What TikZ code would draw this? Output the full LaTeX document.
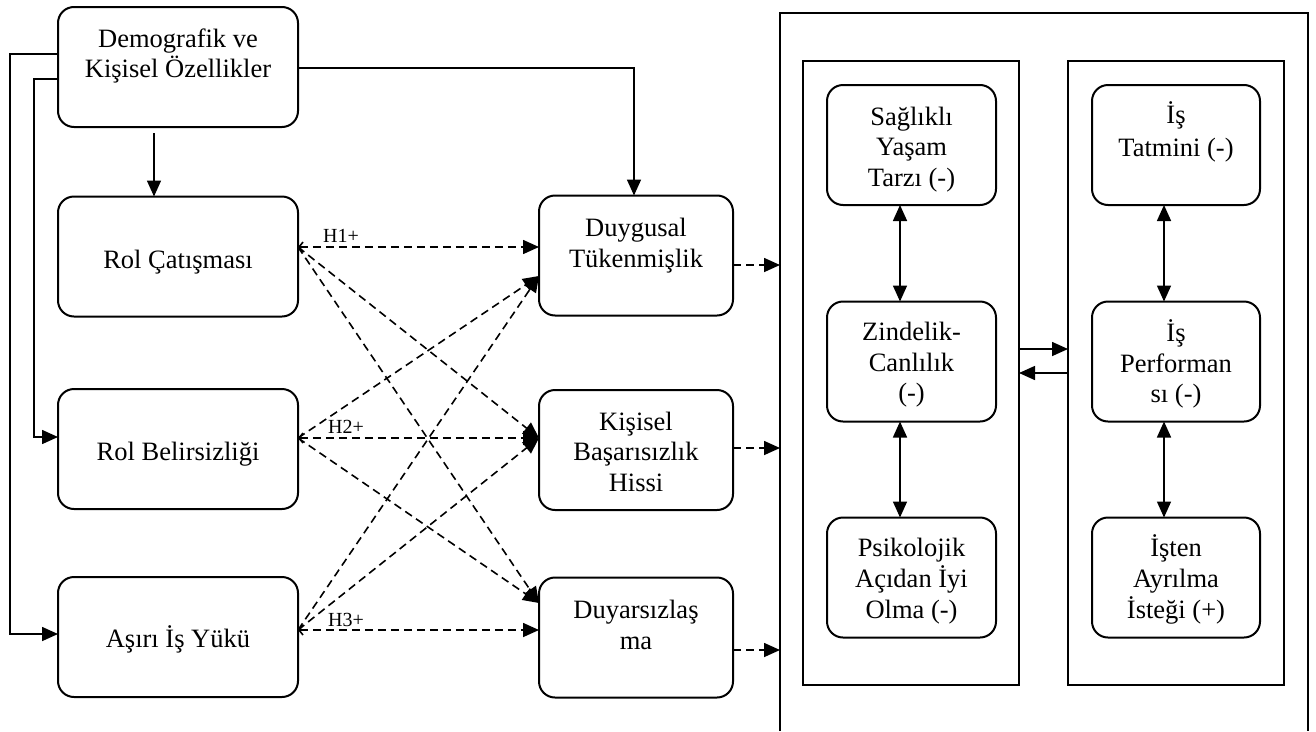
\documentclass[tikz,border=0pt]{standalone}
\usepackage{fontspec}
\setmainfont{Liberation Serif}
\usetikzlibrary{arrows.meta,calc}
% top-aligned multi-line text whose baseline is the first line
\newcommand{\boxtext}[1]{\begin{tabular}[t]{@{}c@{}}#1\end{tabular}}

\begin{document}
\begin{tikzpicture}[x=1pt,y=-1pt,
  card/.style={draw, line width=2pt, rounded corners=16pt, minimum width=#1,
    minimum height=120pt, inner sep=0pt, outer sep=0pt},
  card/.default=240pt,
  group/.style={draw, line width=1.8pt, minimum width=216pt, minimum height=624pt,
    inner sep=0pt, outer sep=0pt},
  lbl/.style={inner sep=0pt, anchor=base, font=\fontsize{26.5}{30.5}\selectfont},
  hyp/.style={inner sep=0pt, anchor=base west, font=\fontsize{20}{24}\selectfont},
  solidarrow/.style={line width=1.6pt, -{Triangle[length=16pt,width=14pt]}},
  bothway/.style={line width=1.6pt, {Triangle[length=16pt,width=14pt]}-{Triangle[length=16pt,width=14pt]}},
  dashline/.style={line width=1.6pt, dash pattern=on 8pt off 5pt, -{Triangle[length=16pt,width=14pt]}},
  dashstart/.style={line width=1.6pt, dash pattern=on 8pt off 5pt,
    {Straight Barb[length=4pt,width=10pt]}-{Triangle[length=16pt,width=14pt]}}
]
\useasboundingbox (0,0) rectangle (1316,731);

% ---- left column: antecedents
\node[card] (dem) at (178,67) {};
\node[card] (rc)  at (178,256.5) {};
\node[card] (rb)  at (178,449) {};
\node[card] (ai)  at (178,637) {};

\node[lbl] at ([yshift=-40pt]dem.north) {\boxtext{Demografik ve\\Kişisel Özellikler}};
\node[lbl] at ([yshift=-72pt]rc.north) {\boxtext{Rol Çatışması}};
\node[lbl] at ([yshift=-71pt]rb.north) {\boxtext{Rol Belirsizliği}};
\node[lbl] at ([yshift=-70pt]ai.north) {\boxtext{Aşırı İş Yükü}};

% ---- middle column: burnout dimensions
\node[card=194pt] (dt) at (636,255.5) {};
\node[card=194pt] (kb) at (636,450) {};
\node[card=194pt] (dy) at (636,637.5) {};

\node[lbl] at ([yshift=-41pt]dt.north) {\boxtext{Duygusal\\Tükenmişlik}};
\node[lbl] at ([yshift=-40pt]kb.north) {\boxtext{Kişisel\\Başarısızlık\\Hissi}};
\node[lbl] at ([yshift=-41pt]dy.north) {\boxtext{Duyarsızlaş\\ma}};

% ---- right part: outcomes
\draw[line width=1.8pt] (780,731) -- (780,13) -- (1308,13) -- (1308,731);
\coordinate (o1) at (780,265);
\coordinate (o2) at (780,448);
\coordinate (o3) at (780,650);

\node[group] (lg) at (911,373) {};
\node[group] (rg) at (1176,373) {};

\node[card=169pt] (syt) at (911.5,145) {};
\node[card=169pt] (zc)  at (911.5,361.5) {};
\node[card=169pt] (pi)  at (911.5,577.5) {};
\node[card=168pt] (it)  at (1176,145) {};
\node[card=168pt] (ip)  at (1176,361.5) {};
\node[card=168pt] (ia)  at (1176,577.5) {};

\node[lbl] at ([yshift=-40pt]syt.north) {\boxtext{Sağlıklı\\Yaşam\\Tarzı (-)}};
\node[lbl] at ([yshift=-39pt]zc.north)  {\boxtext{Zindelik-\\Canlılık\\(-)}};
\node[lbl] at ([yshift=-39pt]pi.north)  {\boxtext{Psikolojik\\Açıdan İyi\\Olma (-)}};
\node[lbl] at ([yshift=-38pt]it.north)  {\boxtext{İş\\[3pt]Tatmini (-)}};
\node[lbl] at ([yshift=-40pt]ip.north)  {\boxtext{İş\\Performan\\sı (-)}};
\node[lbl] at ([yshift=-39pt]ia.north)  {\boxtext{İşten\\Ayrılma\\İsteği (+)}};

% ---- demographic links
\draw[solidarrow] ([yshift=13pt]dem.west) -- ++(-48,0) |- ([yshift=3pt]ai.west);
\draw[solidarrow] ([yshift=-12pt]dem.west) -- ++(-24,0) |- ([yshift=12pt]rb.west);
\draw[solidarrow] ([yshift=-1pt]dem.east) -| ([xshift=-2pt]dt.north);
\draw[solidarrow, shorten <=6pt] ([xshift=-24pt]dem.south) -- ([xshift=-24pt]rc.north);

% ---- hypothesised paths
\draw[dashstart] ([yshift=9.5pt]rc.east) -- ([yshift=8.5pt]dt.west);
\draw[dashline]  ([yshift=9.5pt]rc.east) -- ([yshift=12pt]kb.west);
\draw[dashline]  ([yshift=9.5pt]rc.east) -- ([yshift=34.5pt]dy.west);

\draw[dashline]  ([yshift=11pt]rb.east) -- ([yshift=-20.5pt]dt.west);
\draw[dashstart] ([yshift=11pt]rb.east) -- ([yshift=12pt]kb.west);
\draw[dashline]  ([yshift=11pt]rb.east) -- ([yshift=34.5pt]dy.west);

\draw[dashline]  ([yshift=7pt]ai.east) -- ([yshift=-20.5pt]dt.west);
\draw[dashline]  ([yshift=7pt]ai.east) -- ([yshift=12pt]kb.west);
\draw[dashstart] ([yshift=7pt]ai.east) -- ([yshift=7.5pt]dy.west);

\node[hyp] at (323,242) {H1+};
\node[hyp] at (328,433) {H2+};
\node[hyp] at (328,626) {H3+};

% ---- burnout to outcomes
\draw[dashline] (dt.east |- o1) -- (o1);
\draw[dashline] (kb.east |- o2) -- (o2);
\draw[dashline] (dy.east |- o3) -- (o3);

% ---- links inside the outcome groups
\draw[bothway] ([xshift=-11.5pt]syt.south) -- ([xshift=-11.5pt]zc.north);
\draw[bothway] ([xshift=-11.5pt]zc.south) -- ([xshift=-11.5pt]pi.north);
\draw[bothway] ([xshift=-12pt]it.south) -- ([xshift=-12pt]ip.north);
\draw[bothway] ([xshift=-12pt]ip.south) -- ([xshift=-12pt]ia.north);

\draw[solidarrow] ([yshift=24pt]lg.east) -- ([yshift=24pt]rg.west);
\draw[solidarrow] (rg.west) -- (lg.east);
\end{tikzpicture}
\end{document}
